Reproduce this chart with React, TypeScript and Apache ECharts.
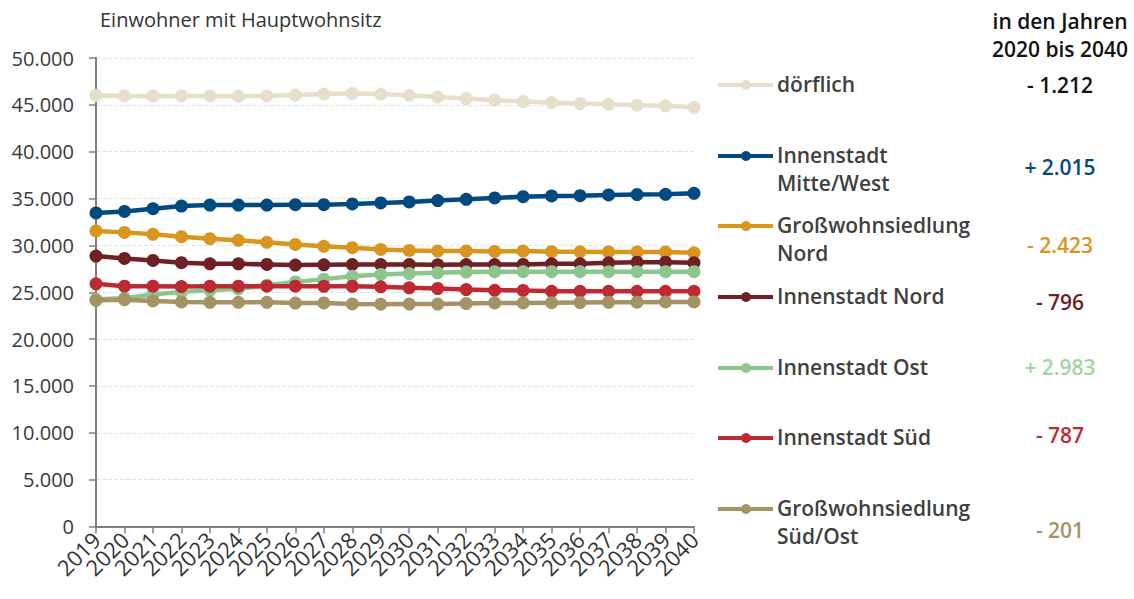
import React, { useEffect, useRef } from "react";
import * as echarts from "echarts";

const years = ["2019","2020","2021","2022","2023","2024","2025","2026","2027","2028","2029","2030","2031","2032","2033","2034","2035","2036","2037","2038","2039","2040"];

const seriesNames = ["dörflich", "Innenstadt Mitte/West", "Großwohnsiedlung Nord", "Innenstadt Nord", "Innenstadt Ost", "Innenstadt Süd", "Großwohnsiedlung Süd/Ost"];
const legendLabels = ["dörflich", "Innenstadt\nMitte/West", "Großwohnsiedlung\nNord", "Innenstadt Nord", "Innenstadt Ost", "Innenstadt Süd", "Großwohnsiedlung\nSüd/Ost"];
const changeLabels = ["- 1.212", "+ 2.015", "- 2.423", "- 796", "+ 2.983", "- 787", "- 201"];
const headerLines = ["in den Jahren", "2020 bis 2040"];
const axisTitle = "Einwohner mit Hauptwohnsitz";

const doerflich = [46000, 45950, 45920, 45950, 45950, 45930, 45950, 46050, 46150, 46200, 46150, 46020, 45850, 45670, 45500, 45350, 45250, 45140, 45070, 44960, 44900, 44740];
const mitteWest = [33460, 33630, 33920, 34200, 34300, 34300, 34300, 34350, 34350, 34420, 34530, 34640, 34780, 34920, 35060, 35200, 35280, 35300, 35380, 35420, 35450, 35560];
const gwsNord = [31540, 31390, 31180, 30930, 30720, 30540, 30330, 30100, 29900, 29750, 29570, 29460, 29390, 29400, 29350, 29400, 29330, 29320, 29300, 29300, 29290, 29210];
const innNord = [28860, 28610, 28400, 28150, 28040, 28040, 27970, 27900, 27930, 27950, 27950, 27950, 27930, 27950, 27950, 27970, 28040, 28040, 28140, 28210, 28210, 28140];
const innOst = [24250, 24360, 24750, 25040, 25210, 25360, 25750, 26100, 26400, 26700, 26900, 27000, 27080, 27150, 27200, 27200, 27200, 27190, 27190, 27190, 27190, 27190];
const innSued = [25900, 25650, 25650, 25610, 25650, 25650, 25650, 25650, 25640, 25640, 25580, 25470, 25400, 25290, 25210, 25200, 25100, 25100, 25100, 25100, 25100, 25100];
const gwsSuedOst = [24140, 24200, 24070, 23960, 23920, 23920, 23920, 23850, 23860, 23750, 23720, 23740, 23740, 23790, 23860, 23860, 23880, 23900, 23920, 23940, 23960, 23970];

const seriesValues = [doerflich, mitteWest, gwsNord, innNord, innOst, innSued, gwsSuedOst];
const lineColors = ["#e6dfcb", "#004a80", "#d9961f", "#6e2025", "#8cc68c", "#be2a33", "#a59463"];
const changeColors = ["#111111", "#004a80", "#d9961f", "#6e2025", "#a3d3a3", "#be2a33", "#a59463"];

const legendY = [85, 156, 226, 297, 368, 438, 509];
const changeY = [85, 167, 245, 302, 367, 435, 530];

const FONT = "'Open Sans', 'Noto Sans', sans-serif";

const fmt = (v: number) => String(v).replace(/\B(?=(\d{3})+(?!\d))/g, ".");

export default function App() {
  const ref = useRef<HTMLDivElement>(null);
  useEffect(() => {
    if (!ref.current) return;
    const chart = echarts.init(ref.current, undefined, { renderer: "svg" });

    const graphics: any[] = [];
    graphics.push({
      type: "text", left: 100, top: 9,
      style: { text: axisTitle, font: `400 20px ${FONT}`, fill: "#333333" },
    });
    headerLines.forEach((t, i) => {
      graphics.push({
        type: "text", x: 1060, y: 21 + i * 28,
        style: { text: t, font: `600 21px ${FONT}`, fill: "#111111", align: "center", verticalAlign: "middle" },
      });
    });
    legendLabels.forEach((lab, i) => {
      const y = legendY[i];
      graphics.push({
        type: "line",
        shape: { x1: 718, y1: y, x2: 773, y2: y },
        style: { stroke: lineColors[i], lineWidth: 4 },
      });
      graphics.push({
        type: "circle",
        shape: { cx: 746, cy: y, r: 5 },
        style: { fill: lineColors[i] },
      });
      graphics.push({
        type: "text", x: 777, y: y - 15,
        style: { text: lab, font: `600 21px ${FONT}`, fill: "#404040", lineHeight: 28, verticalAlign: "top" },
      });
      graphics.push({
        type: "text", x: 1060, y: changeY[i],
        style: { text: changeLabels[i], font: `600 21px ${FONT}`, fill: changeColors[i], align: "center", verticalAlign: "middle" },
      });
    });

    chart.setOption({
      animation: false,
      textStyle: { fontFamily: FONT },
      grid: { left: 96, right: 440, top: 58, bottom: 72.5, containLabel: false },
      xAxis: {
        type: "category",
        data: years,
        boundaryGap: false,
        axisLine: { lineStyle: { color: "#7f7f7f", width: 2 } },
        axisTick: { show: true, length: 7, alignWithLabel: true, lineStyle: { color: "#7f7f7f", width: 1.5 } },
        axisLabel: { rotate: 45, fontSize: 22, color: "#333333", margin: 9, interval: 0, fontFamily: FONT },
      },
      yAxis: {
        type: "value",
        min: 0,
        max: 50000,
        interval: 5000,
        axisLine: { show: true, lineStyle: { color: "#7f7f7f", width: 2 } },
        axisTick: { show: true, length: 7, lineStyle: { color: "#7f7f7f", width: 1.5 } },
        axisLabel: { fontSize: 20, color: "#3a3a3a", margin: 22, formatter: (v: number) => fmt(v), fontFamily: FONT },
        splitLine: { show: true, lineStyle: { color: "#e3e3e3", type: "dashed", width: 1 } },
      },
      series: seriesNames.map((name, i) => ({
        name,
        type: "line",
        data: seriesValues[i],
        symbol: "circle",
        symbolSize: 13,
        showSymbol: true,
        lineStyle: { color: lineColors[i], width: 4.5 },
        itemStyle: { color: lineColors[i] },
        z: 2 + i,
      })),
      graphic: graphics,
    });
    return () => chart.dispose();
  }, []);
  return <div ref={ref} style={{ width: 1134, height: 599, position: "absolute", left: 0, top: 0 }} />;
}
